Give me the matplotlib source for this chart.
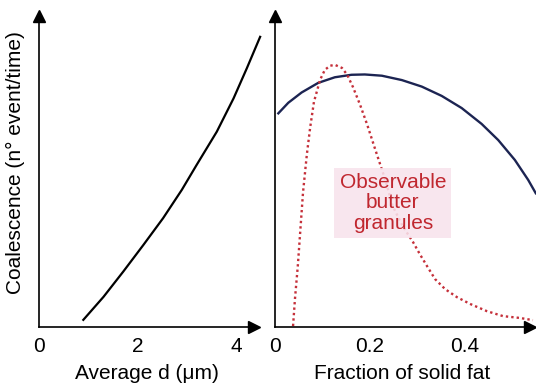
import matplotlib
matplotlib.use("Agg")
import matplotlib.pyplot as plt

plt.rcParams['font.family'] = ['Liberation Sans', 'DejaVu Sans']

# left panel: coalescence vs average droplet size
d_um = [0.90, 1.31, 1.71, 2.12, 2.52, 2.90, 3.20, 3.61, 3.95, 4.22, 4.49]
coal_d = [2.3, 9.7, 17.8, 26.4, 35.0, 44.1, 52.1, 62.8, 73.5, 83.2, 93.3]

# right panel: coalescence vs fraction of solid fat
fat_blue = [0.007, 0.028, 0.056, 0.091, 0.126, 0.161, 0.189, 0.225, 0.267,
            0.309, 0.351, 0.393, 0.435, 0.470, 0.505, 0.533, 0.549]
coal_blue = [68.7, 72.1, 75.4, 78.5, 80.3, 81.1, 81.2, 80.8, 79.4,
             77.3, 74.3, 70.4, 65.3, 60.1, 53.7, 47.3, 43.0]

# butter granules (dotted red)
fat_red = [0.038, 0.042, 0.048, 0.053, 0.059, 0.067, 0.074, 0.082, 0.095, 0.105,
           0.116, 0.126, 0.141, 0.152, 0.164, 0.179, 0.194, 0.211, 0.232, 0.248,
           0.269, 0.291, 0.305, 0.320, 0.337, 0.358, 0.383, 0.411, 0.446, 0.480,
           0.516, 0.543]
gran_red = [0.3, 9.0, 19.6, 30.4, 43.3, 55.4, 64.1, 72.4, 79.5, 82.7,
            84.0, 84.3, 83.3, 81.1, 77.2, 71.5, 65.1, 57.1, 47.4, 38.8,
            32.4, 27.2, 23.4, 19.6, 15.4, 12.2, 9.6, 7.4, 5.1, 3.5,
            2.9, 2.2]

left_ticks = [0, 2, 4]
right_ticks = [0, 0.2, 0.4]
right_labels = ['0', '0.2', '0.4']

fig = plt.figure(figsize=(5.36, 3.87), dpi=100)
ax1 = fig.add_axes([39/536, 60/387, 215/536, 311/387])
ax2 = fig.add_axes([275/536, 60/387, 255/536, 311/387])


def style_axis(ax):
    for s in ['top', 'right']:
        ax.spines[s].set_visible(False)
    for s in ['left', 'bottom']:
        ax.spines[s].set_linewidth(1.2)
    ax.set_yticks([])
    ax.tick_params(axis='x', length=0, pad=7, labelsize=15)
    ax.set_ylim(0, 100)
    # arrow heads at the ends of the axes
    ax.plot(1, 0, '>k', ms=8.5, transform=ax.transAxes, clip_on=False)
    ax.plot(0, 1, '^k', ms=8.5, transform=ax.transAxes, clip_on=False)


style_axis(ax1)
ax1.set_xlim(0, 215/49.25)
ax1.plot(d_um, coal_d, color='black', lw=1.6, clip_on=False)
ax1.set_xticks(left_ticks)
ax1.set_xlabel('Average d (\u03bcm)', fontsize=15, labelpad=6)

style_axis(ax2)
ax2.set_xlim(0, 255/475)
ax2.plot(fat_blue, coal_blue, color='#1c2452', lw=1.7, clip_on=False)
ax2.plot(fat_red, gran_red, color='#c5303a', lw=1.7, ls=(0, (1, 1.3)), clip_on=False)
ax2.set_xticks(right_ticks)
ax2.set_xticklabels(right_labels)
ax2.set_xlabel('Fraction of solid fat', fontsize=15, labelpad=6)

ax2.text(0.248, 39.9, 'Observable\nbutter\ngranules', ha='center', va='center',
         fontsize=15, color='#c0272f', linespacing=1.1, zorder=5,
         bbox=dict(boxstyle='square,pad=0.25', fc='#f8e3ec', ec='none', alpha=0.88))

fig.text(15/536, 1 - 163/387, 'Coalescence (n\u00b0 event/time)', rotation=90,
         ha='center', va='center', fontsize=15)

fig.savefig('out.png', dpi=100)
